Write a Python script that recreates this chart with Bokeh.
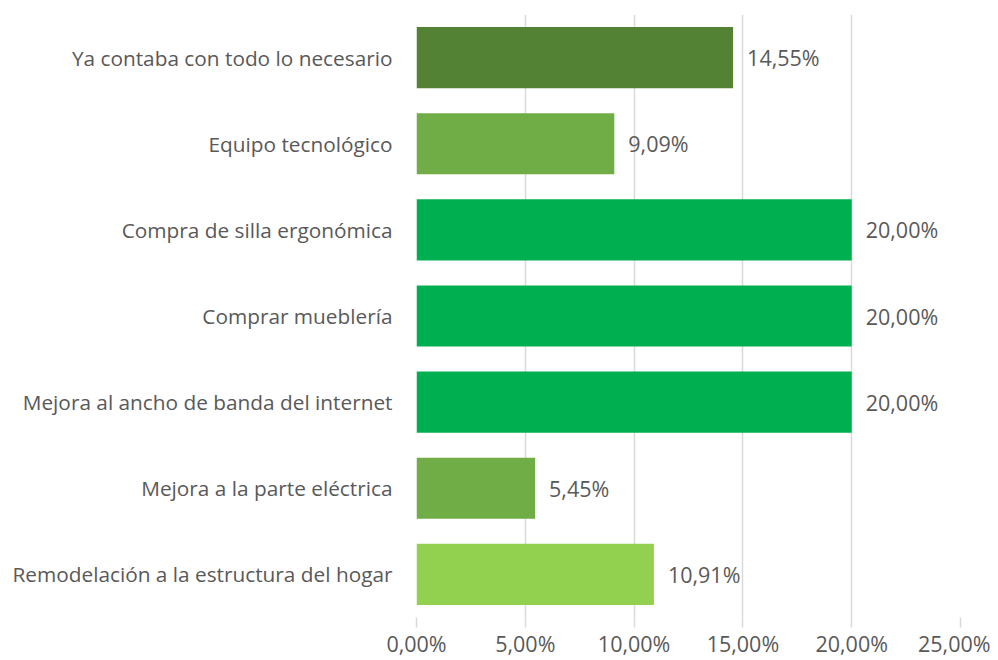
from bokeh.plotting import figure
from bokeh.models import ColumnDataSource, FactorRange, FixedTicker, LabelSet
from bokeh.core.properties import value
from bokeh.embed import file_html
from bokeh.resources import INLINE

categories = [
    "Ya contaba con todo lo necesario",
    "Equipo tecnológico",
    "Compra de silla ergonómica",
    "Comprar mueblería",
    "Mejora al ancho de banda del internet",
    "Mejora a la parte eléctrica",
    "Remodelación a la estructura del hogar",
]
values = [0.1455, 0.0909, 0.20, 0.20, 0.20, 0.0545, 0.1091]
value_labels = ["14,55%", "9,09%", "20,00%", "20,00%", "20,00%", "5,45%", "10,91%"]
colors = ["#548235", "#70AD47", "#00B050", "#00B050", "#00B050", "#70AD47", "#92D050"]
x_ticks = [0, 0.05, 0.10, 0.15, 0.20, 0.25]
x_tick_labels = ["0,00%", "5,00%", "10,00%", "15,00%", "20,00%", "25,00%"]

FONT = "Open Sans"
FS = "20.8px"
FS_NUM = "21.5px"
GREY = "#595959"
GRID = "#d9d9d9"

src = ColumnDataSource(dict(cat=categories, val=values, lab=value_labels, col=colors))

p = figure(
    width=990, height=660,
    y_range=FactorRange(factors=list(reversed(categories)), range_padding=0),
    x_range=(0, 0.25),
    output_backend="svg", toolbar_location=None,
    min_border_left=416, min_border_right=30, min_border_top=14, min_border_bottom=40,
)
p.outline_line_color = None
p.background_fill_color = "white"
p.border_fill_color = "white"

p.hbar(y="cat", right="val", left=0, height=0.71, source=src,
       fill_color="col", line_color=None)

labels = LabelSet(x="val", y="cat", text="lab", source=src, x_offset=14,
                  text_baseline="middle", text_align="left",
                  text_font=value(FONT), text_font_size=value(FS_NUM), text_color=GREY)
p.add_layout(labels)

p.xaxis.ticker = FixedTicker(ticks=x_ticks)
p.xaxis.major_label_overrides = {t: l for t, l in zip(x_ticks, x_tick_labels)}
p.xaxis.axis_line_color = None
p.xaxis.major_tick_line_color = GRID
p.xaxis.major_tick_line_width = 1.5
p.xaxis.major_tick_out = 10
p.xaxis.major_tick_in = 0
p.xaxis.minor_tick_line_color = None
p.xaxis.major_label_standoff = 1
p.xaxis.major_label_text_font = FONT
p.xaxis.major_label_text_font_size = FS_NUM
p.xaxis.major_label_text_color = GREY

p.yaxis.axis_line_color = None
p.yaxis.major_tick_line_color = None
p.yaxis.minor_tick_line_color = None
p.yaxis.major_label_standoff = 18
p.yaxis.major_label_text_font = FONT
p.yaxis.major_label_text_font_size = FS
p.yaxis.major_label_text_color = GREY

p.xgrid.ticker = FixedTicker(ticks=x_ticks)
p.xgrid.grid_line_color = GRID
p.xgrid.grid_line_width = 1.5
p.ygrid.grid_line_color = None

open("out.html", "w").write(file_html(p, INLINE))
